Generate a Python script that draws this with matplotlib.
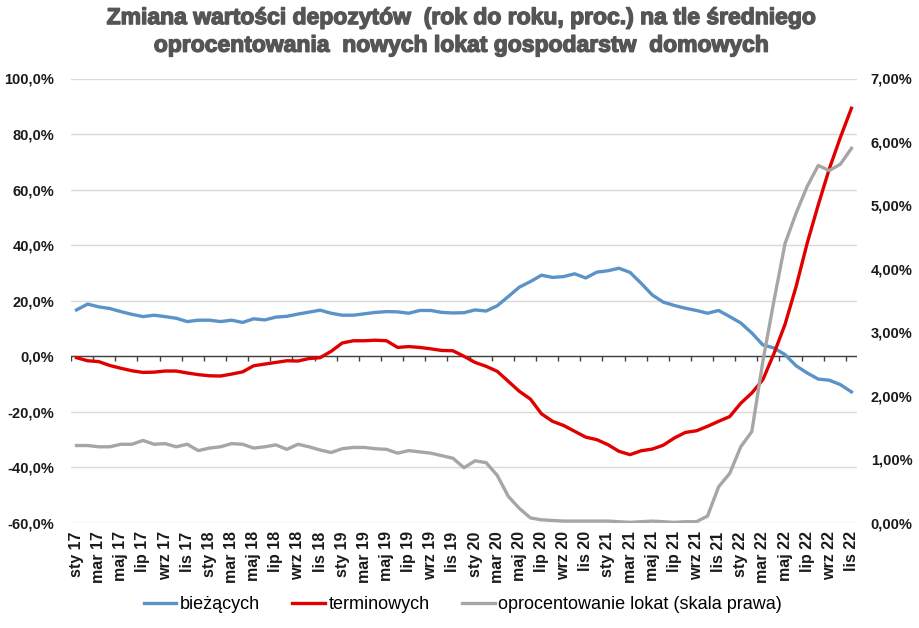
import matplotlib
matplotlib.use('Agg')
import matplotlib.pyplot as plt
import matplotlib.patheffects as pe
from matplotlib.ticker import FuncFormatter

plt.rcParams['font.family'] = 'Liberation Sans'

# monthly data, sty 2017 .. lis 2022
months = ['sty', 'lut', 'mar', 'kwi', 'maj', 'cze', 'lip', 'sie', 'wrz', 'paź', 'lis', 'gru']
labels = [f'{m} {y:02d}' for y in range(17, 23) for m in months][:71]

biezace = [16.7, 18.8, 17.8, 17.2, 16.1, 15.1, 14.3, 14.8, 14.3, 13.7, 12.5, 13.0,
           13.0, 12.5, 13.0, 12.2, 13.5, 13.1, 14.1, 14.4, 15.2, 15.9, 16.6, 15.5,
           14.8, 14.8, 15.3, 15.8, 16.1, 16.0, 15.5, 16.5, 16.5, 15.8, 15.6, 15.7,
           16.7, 16.3, 18.2, 21.5, 24.9, 26.9, 29.2, 28.4, 28.7, 29.7, 28.2, 30.3,
           30.8, 31.7, 30.2, 26.3, 22.1, 19.5, 18.3, 17.3, 16.5, 15.5, 16.5, 14.3,
           12.0, 8.4, 4.1, 3.0, 0.6, -3.4, -6.0, -8.2, -8.6, -10.2, -12.8]

terminowe = [-0.5, -1.6, -1.9, -3.3, -4.3, -5.2, -5.8, -5.7, -5.3, -5.3, -6.0, -6.6,
             -7.0, -7.1, -6.4, -5.6, -3.4, -2.8, -2.2, -1.6, -1.7, -0.8, -0.5, 1.8,
             4.8, 5.6, 5.6, 5.8, 5.6, 3.2, 3.5, 3.2, 2.7, 2.1, 2.0, 0.0,
             -2.2, -3.6, -5.4, -9.0, -12.6, -15.4, -20.7, -23.4, -24.9, -27.0, -29.1, -30.0,
             -31.8, -34.2, -35.4, -34.0, -33.4, -32.0, -29.4, -27.4, -26.8, -25.2, -23.4, -21.7,
             -16.9, -13.2, -8.4, 1.0, 11.5, 25.1, 40.7, 54.5, 67.5, 78.8, 89.3]

oprocentowanie = [1.22, 1.22, 1.20, 1.20, 1.24, 1.24, 1.30, 1.24, 1.25, 1.20, 1.24, 1.14,
                  1.18, 1.20, 1.25, 1.24, 1.18, 1.20, 1.23, 1.16, 1.24, 1.20, 1.15, 1.11,
                  1.17, 1.19, 1.19, 1.17, 1.16, 1.10, 1.14, 1.12, 1.10, 1.06, 1.02, 0.87,
                  0.98, 0.95, 0.75, 0.42, 0.23, 0.08, 0.05, 0.04, 0.03, 0.03, 0.03, 0.03,
                  0.03, 0.02, 0.01, 0.02, 0.03, 0.02, 0.01, 0.02, 0.02, 0.11, 0.57, 0.78,
                  1.20, 1.44, 2.55, 3.50, 4.40, 4.88, 5.30, 5.63, 5.55, 5.65, 5.90]

series_names = ['bieżących', 'terminowych', 'oprocentowanie lokat (skala prawa)']
colors = ['#5b93c9', '#e00000', '#a6a6a6']

x = list(range(len(labels)))

fig = plt.figure(figsize=(9.2, 6.28), dpi=100, facecolor='white')
ax = fig.add_axes([0.0772, 0.1672, 0.8543, 0.7078])
ax2 = ax.twinx()

l1, = ax.plot(x, biezace, color=colors[0], lw=2.4, zorder=3)
l2, = ax.plot(x, terminowe, color=colors[1], lw=2.4, zorder=3)
l3, = ax2.plot(x, oprocentowanie, color=colors[2], lw=2.4, zorder=3)

ax.set_xlim(-0.5, len(labels) - 0.5)
ax.set_ylim(-60, 100)
ax2.set_ylim(0, 7)
ax.set_yticks(range(-60, 101, 20))
ax2.set_yticks(range(0, 8))

ax.yaxis.set_major_formatter(FuncFormatter(lambda v, p: f'{v:.1f}%'.replace('.', ',')))
ax2.yaxis.set_major_formatter(FuncFormatter(lambda v, p: f'{v:.2f}%'.replace('.', ',')))

ax.grid(axis='y', color='#d9d9d9', lw=1.0)
ax.set_axisbelow(True)
for a in (ax, ax2):
    for s in a.spines.values():
        s.set_visible(False)
ax.tick_params(axis='y', length=0, pad=12, labelsize=10.5, labelcolor='#1a1a1a')
ax2.tick_params(axis='y', length=0, pad=10, labelsize=10.5, labelcolor='#1a1a1a')
for t in ax.get_yticklabels() + ax2.get_yticklabels():
    t.set_fontweight('bold')

# category labels every second month, at bottom
ax.set_xticks(x[::2])
ax.set_xticklabels(labels[::2], rotation=90, fontsize=11.5, fontweight='bold', color='#1a1a1a')
ax.tick_params(axis='x', length=0, pad=6)

# zero axis line with tick marks between categories
ax.axhline(0, color='#404040', lw=1.0, zorder=2)
ax.vlines([i - 0.5 for i in x[::2]], -1.6, 0, color='#404040', lw=1.0, zorder=2)

title_fx = [pe.withStroke(linewidth=1.0, foreground='#555555')]
fig.text(0.5, 0.972, 'Zmiana wartości depozytów  (rok do roku, proc.) na tle średniego',
         ha='center', va='center', fontsize=16.5, fontweight='bold', color='#555555',
         path_effects=title_fx)
fig.text(0.5, 0.928, 'oprocentowania  nowych lokat gospodarstw  domowych',
         ha='center', va='center', fontsize=16.5, fontweight='bold', color='#555555',
         path_effects=title_fx)

fig.legend([l1, l2, l3], series_names, loc='center', bbox_to_anchor=(0.503, 0.037),
           ncol=3, frameon=False, fontsize=13, handlelength=1.8, handletextpad=0.2,
           columnspacing=1.8)

fig.savefig('out.png', dpi=100, facecolor='white')
